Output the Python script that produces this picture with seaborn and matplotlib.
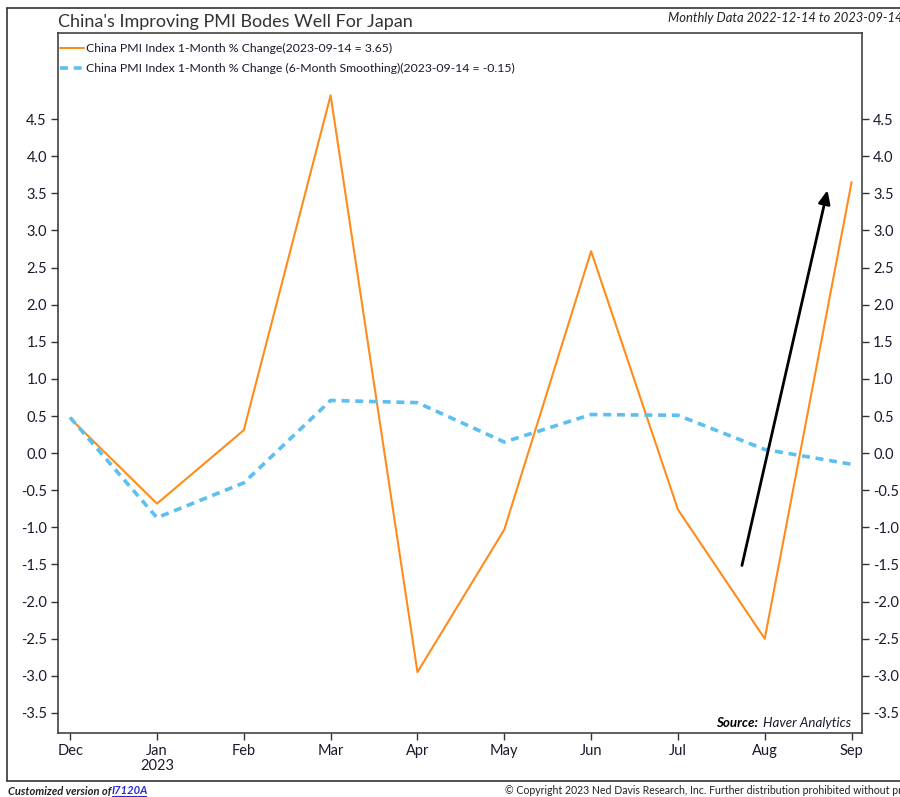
import matplotlib
matplotlib.use("Agg")
import matplotlib.pyplot as plt
import seaborn as sns
import pandas as pd
from matplotlib.lines import Line2D

months = ["Dec", "Jan", "Feb", "Mar", "Apr", "May", "Jun", "Jul", "Aug", "Sep"]
pmi_change = [0.47, -0.68, 0.31, 4.82, -2.95, -1.03, 2.72, -0.76, -2.50, 3.65]
pmi_smooth = [0.48, -0.87, -0.40, 0.71, 0.68, 0.15, 0.52, 0.51, 0.05, -0.15]
y_ticks = [-3.5, -3.0, -2.5, -2.0, -1.5, -1.0, -0.5, 0.0, 0.5, 1.0, 1.5, 2.0, 2.5, 3.0, 3.5, 4.0, 4.5]
arrow_start = (7.73, -1.55)
arrow_end = (8.73, 3.58)

sns.set_style("white")
plt.rcParams["font.family"] = ["Lato", "DejaVu Sans"]

df = pd.DataFrame({"idx": range(len(months)), "change": pmi_change, "smooth": pmi_smooth})

W, H = 900, 797
fig = plt.figure(figsize=(9, 7.97), dpi=100)
ax = fig.add_axes([58 / W, 1 - 733 / H, (862 - 58) / W, (733 - 33) / H])

orange = "#ff8c1a"
blue = "#5bc0f0"
dash = (0, (2.2, 1.6))
sns.lineplot(data=df, x="idx", y="change", ax=ax, color=orange, lw=1.5)
sns.lineplot(data=df, x="idx", y="smooth", ax=ax, color=blue, lw=2.6, linestyle=dash)

ax.set_xlim(-0.14, 9.12)
ax.set_ylim(-3.77, 5.66)
ax.set_xlabel("")
ax.set_ylabel("")

tick_color = "#1a1a2e"
ax.set_xticks(range(len(months)))
ax.set_xticklabels(months)
ax.set_yticks(y_ticks)
ax.set_yticklabels([f"{v:.1f}" for v in y_ticks])
ax.tick_params(axis="both", direction="out", length=5, width=1, color="#333333",
               labelcolor=tick_color, labelsize=10.5)
ax.tick_params(axis="y", left=True, right=True, labelleft=True, labelright=True, pad=3)
ax.tick_params(axis="x", bottom=True, pad=3)
for s in ax.spines.values():
    s.set_visible(True)
    s.set_color("#333333")
    s.set_linewidth(1.1)

ax.text(1, -4.21, "2023", ha="center", va="center", fontsize=10.5, color=tick_color)

ax.annotate("", xy=arrow_end, xytext=arrow_start,
            arrowprops=dict(arrowstyle="-|>,head_length=0.8,head_width=0.35", color="black", lw=2))

handles = [Line2D([], [], color=orange, lw=1.5),
           Line2D([], [], color=blue, lw=2.6, linestyle=dash)]
labels = ["China PMI Index 1-Month % Change(2023-09-14 = 3.65)",
          "China PMI Index 1-Month % Change (6-Month Smoothing)(2023-09-14 = -0.15)"]
ax.legend(handles, labels, loc="upper left", frameon=False, fontsize=8.8,
          handlelength=2.0, handletextpad=0.1, borderaxespad=0.0, labelspacing=0.75,
          borderpad=0.35, bbox_to_anchor=(-0.003, 0.992), labelcolor=tick_color)

fig.text(716 / W, 1 - 723 / H, "Source:", ha="left", va="center",
         fontsize=9.6, style="italic", fontweight="bold", color="black")
fig.text(851 / W, 1 - 723 / H, "Haver Analytics", ha="right", va="center",
         fontsize=9.6, style="italic", color=tick_color)

fig.text(58 / W, 1 - 22 / H, "China's Improving PMI Bodes Well For Japan",
         fontsize=13, color="#333333", ha="left", va="center")
fig.text(1.003, 1 - 18 / H, "Monthly Data 2022-12-14 to 2023-09-14",
         fontsize=9.4, style="italic", color="#222222", ha="right", va="center")

# outer frame lines
fig.add_artist(Line2D([7 / W, 1], [1 - 8 / H] * 2, color="#333333", lw=1.2, transform=fig.transFigure))
fig.add_artist(Line2D([7 / W, 1], [1 - 781 / H] * 2, color="#333333", lw=1.2, transform=fig.transFigure))
fig.add_artist(Line2D([7 / W] * 2, [1 - 8 / H, 1 - 781 / H], color="#333333", lw=1.2, transform=fig.transFigure))

fig.text(8 / W, 1 - 791 / H, "Customized version of", fontsize=8, style="italic",
         fontweight="bold", color="#222222", ha="left", va="center")
fig.text(112 / W, 1 - 791 / H, "I7120A", fontsize=8, style="italic", fontweight="bold",
         color="#2a2ad0", ha="left", va="center")
fig.add_artist(Line2D([112 / W, 146 / W], [1 - 796 / H] * 2, color="#2a2ad0", lw=0.8,
                      transform=fig.transFigure))
fig.text(505 / W, 1 - 791 / H,
         "\u00a9 Copyright 2023 Ned Davis Research, Inc. Further distribution prohibited without prior permission.",
         fontsize=7.6, color="#222222", ha="left", va="center")

fig.savefig("out.png", dpi=100)
